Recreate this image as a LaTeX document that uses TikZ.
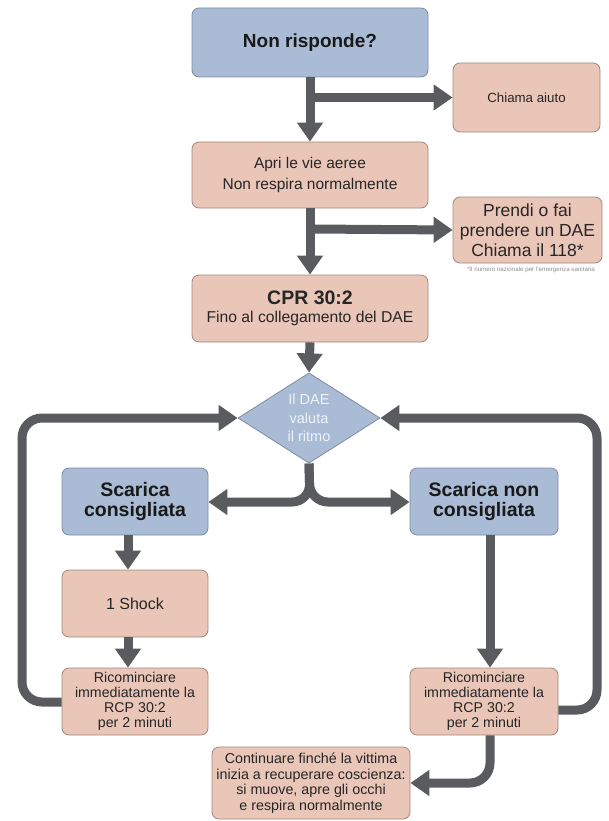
\documentclass[tikz,border=0pt]{standalone}
\usepackage{fontspec}
\setmainfont{Liberation Sans}
\usetikzlibrary{shapes.geometric,arrows.meta}
\definecolor{bluefill}{HTML}{A9BBD5}
\definecolor{blueline}{HTML}{7D8CA3}
\definecolor{pinkfill}{HTML}{E9C6B8}
\definecolor{pinkline}{HTML}{A3877D}
\definecolor{arrgray}{HTML}{5A5B5E}
\tikzset{
  bluebox/.style={draw=blueline,fill=bluefill,line width=0.8pt,rounded corners=7pt,inner sep=0pt,align=center,text=black!90},
  pinkbox/.style={draw=pinkline,fill=pinkfill,line width=0.8pt,rounded corners=7pt,inner sep=0pt,align=center,text=black!85},
  flow/.style={draw=arrgray,line width=9pt,-{Triangle[width=25pt,length=19pt]}},
}
\begin{document}
\begin{tikzpicture}[x=1pt,y=-1pt]
\useasboundingbox (0,0) rectangle (608,821);
% main column
\node[bluebox,minimum width=236pt,minimum height=69pt,font=\bfseries\fontsize{19}{22}\selectfont] (nr) at (310,42.5) {Non risponde?};
\node[pinkbox,minimum width=147pt,minimum height=69pt,font=\fontsize{13.3}{15}\selectfont] (ca) at (526.5,97.5) {Chiama aiuto};
\node[pinkbox,minimum width=236pt,minimum height=66pt,font=\fontsize{15.5}{21}\selectfont] (av) at (310,175) {Apri le vie aeree\\Non respira normalmente};
\node[pinkbox,minimum width=149pt,minimum height=66pt,font=\fontsize{17.5}{20}\selectfont] (pd) at (527.5,230) {Prendi o fai\\prendere un DAE\\Chiama il 118*};
\node[font=\fontsize{6.2}{7}\selectfont,text=black!45] (nt) at (531,270) {*Il numero nazionale per l'emergenza sanitaria};
\node[pinkbox,minimum width=236pt,minimum height=67pt,font=\fontsize{15.7}{18}\selectfont] (cpr) at (310,308.5) {{\bfseries\fontsize{19.5}{18}\selectfont CPR 30:2}\\Fino al collegamento del DAE};
\node[diamond,draw=blueline,fill=bluefill,line width=0.8pt,minimum width=142pt,minimum height=86pt,inner sep=0pt,align=center,font=\fontsize{14.5}{18.5}\selectfont,text=white!82!bluefill] (dae) at (309,418) {Il DAE\\valuta\\il ritmo};
\node[bluebox,minimum width=146pt,minimum height=67pt,font=\bfseries\fontsize{19.5}{20}\selectfont] (sc) at (135,501.5) {Scarica\\consigliata};
\node[bluebox,minimum width=148pt,minimum height=67pt,font=\bfseries\fontsize{19.5}{20}\selectfont] (snc) at (484,501.5) {Scarica non\\consigliata};
\node[pinkbox,minimum width=146pt,minimum height=67pt,font=\fontsize{16}{18}\selectfont] (sh) at (135,603.5) {1 Shock};
\node[pinkbox,minimum width=146pt,minimum height=67pt,font=\fontsize{14.2}{15}\selectfont] (rl) at (135,701.5) {Ricominciare\\immediatamente la\\RCP 30:2\\per 2 minuti};
\node[pinkbox,minimum width=148pt,minimum height=67pt,font=\fontsize{14.2}{15}\selectfont] (rr) at (484,701.5) {Ricominciare\\immediatamente la\\RCP 30:2\\per 2 minuti};
\node[pinkbox,minimum width=198pt,minimum height=72pt,font=\fontsize{14.3}{15.5}\selectfont] (co) at (311,783) {Continuare finché la vittima\\inizia a recuperare coscienza:\\si muove, apre gli occhi\\e respira normalmente};
% connectors
\draw[flow] (nr.south) -- (av.north);
\draw[flow] (310,97.5) -- (ca.west);
\draw[flow] (av.south) -- (cpr.north);
\draw[flow] (310,229) -- (pd.west);
\draw[flow] (cpr.south) -- (dae.north);
\draw[flow,rounded corners=18pt] (dae.south) -- (310,502) -- (sc.east |- 0,502);
\draw[flow,rounded corners=18pt] (dae.south) -- (310,502) -- (snc.west |- 0,502);
\draw[flow] (sc.south -| 128,0) -- (sh.north -| 128,0);
\draw[flow] (sh.south -| 128,0) -- (rl.north -| 128,0);
\draw[flow] (snc.south -| 490,0) -- (rr.north -| 490,0);
\draw[flow,rounded corners=20pt] (rl.west |- 0,702) -- (22,702) -- (22,418) -- (dae.west);
\draw[flow,rounded corners=20pt] (rr.east |- 0,710) -- (597,710) -- (597,418) -- (dae.east);
\draw[flow,rounded corners=20pt] (rr.south -| 490,0) -- (490,783) -- (co.east);
\end{tikzpicture}
\end{document}
